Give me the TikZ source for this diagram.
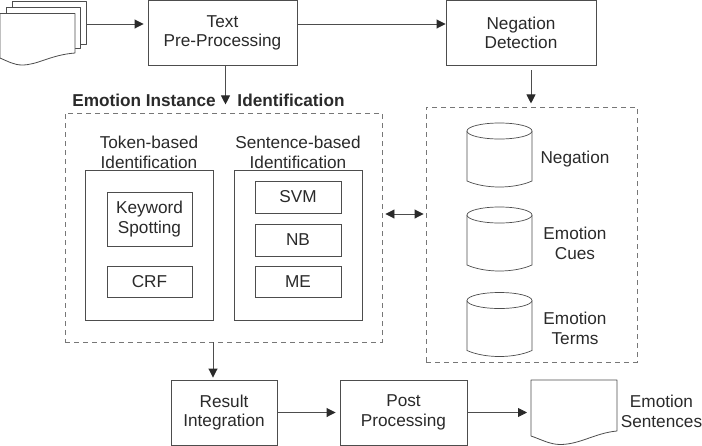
\documentclass[tikz,border=0pt]{standalone}
\usepackage{fontspec}
\setmainfont{Liberation Sans}
\usetikzlibrary{arrows.meta}
\definecolor{boxgray}{HTML}{4D4D4D}
\definecolor{dashgray}{HTML}{777777}
\definecolor{inkgray}{HTML}{2A2A2A}
\tikzset{
  boxtext/.style={text=inkgray,align=center,inner sep=0pt,font=\fontsize{17.2}{19.8}\selectfont},
  procbox/.style={boxtext,draw=boxgray,line width=0.9pt,fill=white},
  dashbox/.style={draw=dashgray,line width=0.9pt,dash pattern=on 5pt off 4pt},
  linkarrow/.style={draw=boxgray,line width=0.9pt,->},
  doc/.style={draw=boxgray,line width=0.8pt,fill=white,line join=round},
  cyl/.style={draw=boxgray,line width=0.7pt,fill=white}
}
\begin{document}
\begin{tikzpicture}[x=1pt,y=-1pt,>={Triangle[length=9pt,width=9pt,color=inkgray]}]
  \useasboundingbox (0,0) rectangle (702,445);
  % input documents
  \draw[doc] (12.7,1) rectangle (86,44);
  \draw[doc] (6.5,7) rectangle (80,48);
  \draw[doc] (0,13.5) -- (75,13.5) -- (75,53) .. controls (50,55) and (38,65) .. (22,65) .. controls (14,65) and (7,61) .. (0,58) -- cycle;
  \coordinate (docs) at (86,24);
  % top row
  \node[procbox,minimum width=149pt,minimum height=65pt] (text) at (222.5,32.5) {\raisebox{-1pt}{Text}\\Pre-Processing};
  \node[procbox,minimum width=150pt,minimum height=65pt] (negdet) at (521,32.5) {\raisebox{-1pt}{Negation}\\Detection};
  % dashed groups
  \node[dashbox,minimum width=317pt,minimum height=229pt] (ident) at (223.5,227.5) {};
  \node[dashbox,minimum width=211pt,minimum height=255pt] (store) at (531.5,234.5) {};
  \node[font=\fontsize{17.2}{19.8}\selectfont\bfseries,text=inkgray,inner sep=0pt] (titlea) at (144,100) {Emotion Instance};
  \node[font=\fontsize{17.2}{19.8}\selectfont\bfseries,text=inkgray,inner sep=0pt] (titleb) at (291,100) {Identification};
  % identification boxes
  \node[boxtext] (tokentitle) at (149,152) {Token-based\\Identification};
  \node[boxtext] (senttitle) at (298,152) {Sentence-based\\Identification};
  \node[procbox,minimum width=128pt,minimum height=150pt] (token) at (149,245) {};
  \node[procbox,minimum width=128pt,minimum height=150pt] (sent) at (298,245) {};
  \node[procbox,minimum width=85pt,minimum height=54pt] (keyword) at (149.5,219) {Keyword\\Spotting};
  \node[procbox,minimum width=85pt,minimum height=31pt] (crf) at (149.5,281.5) {CRF};
  \node[procbox,minimum width=86pt,minimum height=32pt] (svm) at (298,197) {SVM};
  \node[procbox,minimum width=86pt,minimum height=32pt] (nb) at (298,240) {NB};
  \node[procbox,minimum width=86pt,minimum height=31pt] (me) at (298,281.5) {ME};
  % cylinders
  \foreach \cy/\name in {131/a,215/b,300.5/c}{
    \draw[cyl] (467,\cy) -- (467,\cy+50) .. controls (485,\cy+58) and (514,\cy+58) .. (532,\cy+50) -- (532,\cy) arc[start angle=0,end angle=180,x radius=32.5pt,y radius=8pt];
    \draw[cyl] (467,\cy) arc[start angle=180,end angle=360,x radius=32.5pt,y radius=8pt];
    \coordinate (cyl\name) at (499.5,\cy);
  }
  \node[boxtext] (neg) at (575,159.5) {Negation};
  \node[boxtext] (cues) at (575,243) {Emotion\\Cues};
  \node[boxtext] (terms) at (575,328) {Emotion\\Terms};
  % bottom row
  \node[procbox,minimum width=106pt,minimum height=65pt] (result) at (224,412.5) {Result\\Integration};
  \node[procbox,minimum width=127pt,minimum height=65pt] (post) at (403.5,412.5) {Post\\Processing};
  \draw[doc] (531,380) -- (617,380) -- (617,431) .. controls (595,433) and (580,444.5) .. (560,444.5) .. controls (550,444.5) and (540,439) .. (531,436) -- cycle;
  \coordinate (outdoc) at (531,412.5);
  \node[boxtext] (outlabel) at (661.5,411.5) {Emotion\\Sentences};
  % connectors
  \draw[linkarrow,shorten >=4pt] (docs) -- ([yshift=8.5pt]text.west);
  \draw[linkarrow] ([yshift=8.5pt]text.east) -- ([yshift=8.5pt]negdet.west);
  \draw[linkarrow] ([xshift=3pt]text.south) -- ([xshift=3pt,yshift=-39pt]text.south);
  \draw[linkarrow,shorten <=5pt] ([xshift=10pt]negdet.south) -- ([xshift=10pt,yshift=-38pt]negdet.south);
  \draw[draw=boxgray,line width=0.9pt,<->] ([xshift=3pt,yshift=13.5pt]ident.east) -- ([xshift=-2pt,yshift=20.5pt]store.west);
  \draw[linkarrow,shorten >=2pt] ([xshift=-10.5pt]ident.south) -- ([xshift=-11pt]result.north);
  \draw[linkarrow,shorten >=4pt] (result.east) -- (post.west);
  \draw[linkarrow,shorten >=4pt] (post.east) -- (outdoc);
\end{tikzpicture}
\end{document}
